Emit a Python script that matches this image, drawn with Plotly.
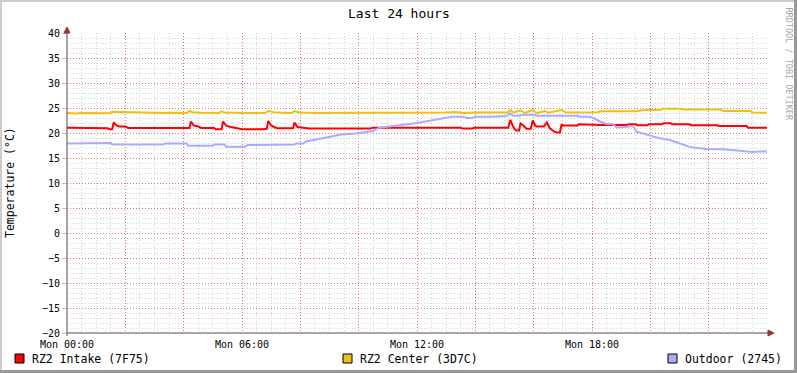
import pandas as pd
import plotly.graph_objects as go

# ---------------- data ----------------
base_day = "2024-01-01"   # a Monday

intake_h = [0.0, 0.5, 0.55, 1.4, 1.45, 1.55, 1.6, 1.7, 1.8, 2.0, 2.1, 2.6, 2.7, 4.1, 4.2, 4.25, 4.35,
            4.5, 4.6, 5.05, 5.1, 5.3, 5.35, 5.45, 5.6, 5.8, 6.0, 6.7, 6.85, 6.9, 7.0, 7.1, 7.2,
            7.75, 7.8, 7.9, 8.2, 8.3, 10.4, 10.5, 13.5, 13.55, 13.9, 13.95, 15.13, 15.2, 15.28,
            15.33, 15.4, 15.5, 15.55, 15.65, 15.75, 15.9, 15.97, 16.05, 16.1, 16.35, 16.45,
            16.55, 16.65, 16.75, 16.9, 16.96, 17.0, 17.5, 17.55, 18.3, 19.2, 19.25, 19.5,
            19.55, 19.9, 19.95, 20.4, 20.45, 20.7, 20.75, 21.35, 21.4, 22.3, 22.35, 23.3,
            23.35, 24.0]
intake_v = [21.05, 21.05, 20.95, 20.95, 20.75, 20.75, 22.1, 21.5, 21.3, 21.3, 21.0, 21.0, 20.95,
            20.95, 21.0, 22.3, 21.5, 21.3, 21.0, 21.0, 20.75, 20.75, 22.3, 21.5, 21.2, 21.0,
            20.75, 20.75, 20.85, 22.4, 21.5, 21.2, 20.95, 20.95, 22.1, 21.2, 21.07, 20.9, 20.9,
            21.07, 21.07, 20.9, 20.9, 21.07, 21.07, 22.6, 21.5, 20.9, 20.5, 20.5, 21.9, 21.5,
            20.85, 20.85, 22.5, 21.5, 21.3, 21.3, 22.1, 21.0, 20.5, 20.15, 20.1, 21.8, 21.5,
            21.5, 21.73, 21.6, 21.6, 21.73, 21.73, 21.53, 21.53, 21.75, 21.75, 21.95, 21.95,
            21.73, 21.73, 21.53, 21.53, 21.4, 21.4, 21.07, 21.07]

center_h = [0.0, 0.3, 0.5, 1.0, 1.2, 1.5, 1.55, 2.0, 2.4, 3.3, 3.6, 4.1, 4.2, 4.3, 4.6, 5.2, 5.3,
            5.4, 6.0, 6.8, 6.9, 7.1, 7.4, 7.7, 7.8, 7.95, 8.5, 10.4, 10.5, 13.0, 13.3, 13.6,
            14.0, 15.1, 15.2, 15.3, 15.55, 15.7, 15.97, 16.1, 16.4, 16.5, 16.96, 17.1, 18.2,
            18.3, 19.5, 19.8, 20.35, 20.4, 21.05, 21.1, 22.4, 22.5, 23.45, 23.5, 24.0]
center_v = [24.0, 23.9, 24.0, 24.0, 23.95, 23.95, 24.25, 24.15, 24.05, 24.0, 24.05, 24.0, 24.4,
            24.15, 24.05, 24.0, 24.35, 24.1, 24.0, 24.0, 24.4, 24.15, 24.05, 24.0, 24.4, 24.1,
            24.0, 24.0, 24.1, 24.1, 24.2, 24.0, 24.1, 24.1, 24.6, 24.1, 24.5, 24.0, 24.6, 24.0,
            24.4, 24.05, 24.6, 24.1, 24.15, 24.35, 24.35, 24.6, 24.6, 24.85, 24.85, 24.7, 24.7,
            24.4, 24.4, 24.1, 24.05]

outdoor_h = [0.0, 0.3, 1.5, 1.55, 3.3, 3.35, 4.1, 4.15, 5.0, 5.05, 5.4, 5.45, 6.1, 6.2, 7.2, 7.25,
             7.8, 7.85, 8.1, 8.2, 8.8, 9.4, 9.9, 10.5, 10.7, 11.2, 11.6, 12.0, 12.4, 12.67, 13.2,
             13.6, 13.7, 13.9, 14.0, 14.5, 15.07, 15.19, 15.3, 15.5, 15.65, 16.0, 16.1, 17.5,
             17.6, 17.9, 18.05, 18.27, 18.5, 18.7, 18.84, 19.07, 19.3, 19.4, 19.53, 19.98,
             20.33, 20.67, 21.0, 21.4, 21.93, 22.5, 23.07, 23.5, 23.87, 24.0]
outdoor_v = [17.9, 17.95, 18.0, 17.7, 17.7, 17.9, 17.9, 17.45, 17.45, 17.7, 17.7, 17.25, 17.25,
             17.6, 17.6, 17.7, 17.7, 17.9, 17.9, 18.3, 19.0, 19.7, 19.9, 20.4, 21.07, 21.5, 21.7,
             22.0, 22.4, 22.6, 23.27, 23.27, 23.0, 23.0, 23.27, 23.27, 23.4, 23.93, 23.47,
             23.47, 23.67, 23.67, 23.47, 23.47, 23.27, 23.27, 23.0, 22.3, 21.8, 21.8, 21.13,
             21.13, 21.4, 21.4, 20.27, 19.6, 18.93, 18.6, 17.93, 17.13, 16.8, 16.73, 16.47,
             16.2, 16.33, 16.3]

series_names = ["RZ2 Intake (7F75)", "RZ2 Center (3D7C)", "Outdoor (2745)"]
series_colors = ["#FF0000", "#EAC117", "#AAAAFF"]

x_tick_hours = [0, 2, 4, 6, 8, 10, 12, 14, 16, 18, 20, 22]
x_tick_text = ["Mon 00:00", "", "", "Mon 06:00", "", "", "Mon 12:00", "", "", "Mon 18:00", "", ""]
y_range = [-20, 40]

title_text = "Last 24 hours"
y_title = "Temperature (°C)"
watermark = "RRDTOOL / TOBI OETIKER"

# ---------------- figure ----------------
t0 = pd.Timestamp(base_day)
def to_time(hours):
    return t0 + pd.to_timedelta(hours, unit="h")

W, H = 797, 373
L, R, T, B = 67, 30, 33, 40
PW, PH = W - L - R, H - T - B

def px(x):
    return (x - L) / PW

def py(y):
    return (H - B - y) / PH

fig = go.Figure()
for hrs, vals, name, col in zip([intake_h, center_h, outdoor_h],
                                [intake_v, center_v, outdoor_v],
                                series_names, series_colors):
    fig.add_trace(go.Scatter(x=to_time(hrs), y=vals, mode="lines", name=name,
                             line=dict(color=col, width=2), showlegend=False,
                             hoverinfo="skip"))

font_family = "DejaVu Sans Mono"
major_grid = "#E07474"
minor_grid = "#D4D4D4"
grid_dash = "1px,2px"

fig.update_layout(
    width=W, height=H, autosize=False,
    margin=dict(l=L, r=R, t=T, b=B, pad=0),
    paper_bgcolor="#FFFFFF", plot_bgcolor="#FFFFFF",
    font=dict(family=font_family, size=10, color="#000000"),
    showlegend=False,
    xaxis=dict(
        range=[to_time(0), to_time(24)],
        tickmode="array", tickvals=to_time(x_tick_hours), ticktext=x_tick_text,
        showgrid=True, gridcolor=major_grid, griddash=grid_dash, gridwidth=1,
        minor=dict(dtick=30 * 60 * 1000, showgrid=True, gridcolor=minor_grid,
                   griddash=grid_dash, gridwidth=1),
        showline=False, zeroline=False, ticks="outside", ticklen=2, tickcolor="rgba(0,0,0,0)",
        tickfont=dict(size=10), fixedrange=True,
    ),
    yaxis=dict(
        range=y_range, dtick=5, tick0=0,
        showgrid=True, gridcolor=major_grid, griddash=grid_dash, gridwidth=1,
        minor=dict(dtick=1, showgrid=True, gridcolor=minor_grid,
                   griddash=grid_dash, gridwidth=1),
        showline=False, zeroline=False, ticks="outside", ticklen=4,
        tickcolor="#E8A6A6", tickfont=dict(size=10), fixedrange=True,
    ),
)

axis_col = "#5A4848"
arrow_col = "#993333"
shapes = [
    # axes
    dict(type="line", xref="paper", yref="paper", x0=px(67), x1=px(770), y0=py(333), y1=py(333),
         line=dict(color=axis_col, width=1)),
    dict(type="line", xref="paper", yref="paper", x0=px(67), x1=px(67), y0=py(336), y1=py(30),
         line=dict(color=axis_col, width=1)),
    # arrows
    dict(type="path", xref="paper", yref="paper",
         path=f"M {px(768)} {py(330)} L {px(774)} {py(333)} L {px(768)} {py(336)} Z",
         fillcolor=arrow_col, line=dict(color=arrow_col, width=1)),
    dict(type="path", xref="paper", yref="paper",
         path=f"M {px(64)} {py(33)} L {px(67)} {py(27)} L {px(70)} {py(33)} Z",
         fillcolor=arrow_col, line=dict(color=arrow_col, width=1)),
    # frame
    dict(type="rect", xref="paper", yref="paper", x0=px(0), x1=px(W), y0=py(0), y1=py(2),
         fillcolor="#CCCCCC", line=dict(width=0), layer="above"),
    dict(type="rect", xref="paper", yref="paper", x0=px(0), x1=px(2), y0=py(0), y1=py(H),
         fillcolor="#CCCCCC", line=dict(width=0), layer="above"),
    dict(type="rect", xref="paper", yref="paper", x0=px(W - 3), x1=px(W), y0=py(0), y1=py(H),
         fillcolor="#999999", line=dict(width=0), layer="above"),
    dict(type="rect", xref="paper", yref="paper", x0=px(0), x1=px(W), y0=py(H - 3), y1=py(H),
         fillcolor="#999999", line=dict(width=0), layer="above"),
]

annotations = [
    dict(text=title_text, x=px(W / 2), y=py(13), xref="paper", yref="paper",
         xanchor="center", yanchor="middle", showarrow=False,
         font=dict(family=font_family, size=13, color="#000000")),
    dict(text=y_title, x=px(10), y=py(183), xref="paper", yref="paper",
         xanchor="center", yanchor="middle", showarrow=False, textangle=-90,
         font=dict(family=font_family, size=11.5, color="#000000")),
    dict(text=watermark, x=px(789), y=py(5), xref="paper", yref="paper",
         xanchor="center", yanchor="top", showarrow=False, textangle=90,
         font=dict(family=font_family, size=8.5, color="#A8A8A8")),
]

legend_box_x = [15, 343, 668]
for bx, name, col in zip(legend_box_x, series_names, series_colors):
    shapes.append(dict(type="rect", xref="paper", yref="paper",
                       x0=px(bx), x1=px(bx + 9), y0=py(354), y1=py(363),
                       fillcolor=col, line=dict(color="#000000", width=1)))
    annotations.append(dict(text=name, x=px(bx + 15), y=py(358.5), xref="paper", yref="paper",
                            xanchor="left", yanchor="middle", showarrow=False,
                            font=dict(family=font_family, size=11.5, color="#000000")))

fig.update_layout(shapes=shapes, annotations=annotations)

fig.write_html("out.html", config={"displayModeBar": False},
               post_script="document.body.style.margin='0';document.body.style.overflow='hidden';")
